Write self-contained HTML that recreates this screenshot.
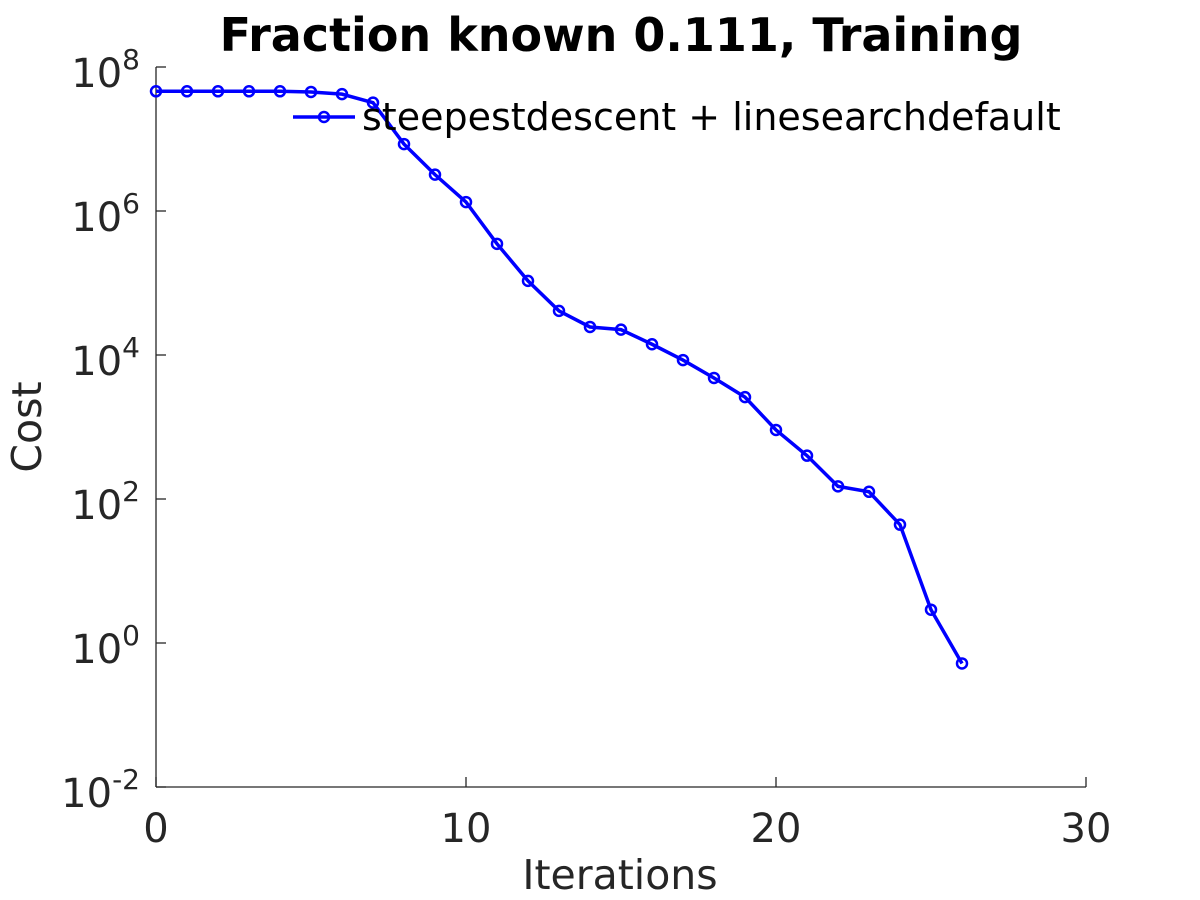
<!DOCTYPE html>
<html><head><meta charset="utf-8"><style>
body{margin:0;background:#fff;}
svg{display:block;font-family:"DejaVu Sans","Liberation Sans",sans-serif;}
</style></head><body>
<svg id="chart" width="1200" height="900" viewBox="0 0 1200 900">
<rect width="1200" height="900" fill="#fff"/>
<text x="621" y="51" font-size="46" font-weight="bold" text-anchor="middle" fill="#000">Fraction known 0.111, Training</text>
<g id="axes"></g>
<g id="series"></g>
<g>
<line x1="293" y1="117" x2="355" y2="117" stroke="#0000ff" stroke-width="3.5"/>
<circle cx="324" cy="117" r="5" fill="none" stroke="#0000ff" stroke-width="2.5"/>
<text x="362" y="130" font-size="38" fill="#000">steepestdescent + linesearchdefault</text>
</g>
<text x="620" y="889" font-size="41" text-anchor="middle" fill="#262626">Iterations</text>
<text x="41" y="427" font-size="41" text-anchor="middle" fill="#262626" transform="rotate(-90 41 427)">Cost</text>
</svg>
<script>
const iterations=[0,1,2,3,4,5,6,7,8,9,10,11,12,13,14,15,16,17,18,19,20,21,22,23,24,25,26];
const costs=[4.6e7,4.6e7,4.6e7,4.6e7,4.6e7,4.5e7,4.2e7,3.2e7,8.5e6,3.2e6,1.33e6,3.5e5,1.07e5,4.1e4,2.45e4,2.25e4,1.41e4,8.5e3,4.8e3,2.6e3,9.1e2,4.0e2,1.5e2,1.26e2,4.4e1,2.9,0.52];
const xTicks=[0,10,20,30];
const yTickExps=[-2,0,2,4,6,8];
const NS="http://www.w3.org/2000/svg";
const X0=156,X1=1086,Y0=787,Y1=67;
const xs=v=>X0+(v-0)/(30-0)*(X1-X0);
const ys=v=>Y0-(Math.log10(v)+2)/10*(Y0-Y1);
function mk(t,a,p){const e=document.createElementNS(NS,t);for(const k in a)e.setAttribute(k,a[k]);p.appendChild(e);return e;}
const ax=document.getElementById('axes');
const xl=mk('line',{x1:X0,y1:Y0,x2:X1,y2:Y0,stroke:'#262626','stroke-width':1.3},ax);


const yl=mk('line',{x1:X0,y1:Y0,x2:X0,y2:Y1,stroke:'#262626','stroke-width':1.3},ax);


xTicks.forEach(t=>{const x=xs(t);
mk('line',{x1:x,y1:Y0,x2:x,y2:Y0-10,stroke:'#262626','stroke-width':1.3},ax);
const tx=mk('text',{x:x,y:Y0+55,'font-size':40,'text-anchor':'middle',fill:'#262626'},ax);tx.textContent=t;

});
yTickExps.forEach(e=>{const y=ys(Math.pow(10,e));
mk('line',{x1:X0,y1:y,x2:X0+10,y2:y,stroke:'#262626','stroke-width':1.3},ax);
const tx=mk('text',{x:140,y:y+20,'font-size':40,'text-anchor':'end',fill:'#262626'},ax);
tx.textContent='10';
const s=mk('tspan',{dy:-18,'font-size':28},tx);s.textContent=e;

});
const sg=document.getElementById('series');
const pts=iterations.map((v,i)=>xs(v)+','+ys(costs[i])).join(' ');
const pl=mk('polyline',{points:pts,fill:'none',stroke:'#0000ff','stroke-width':3.5},sg);


iterations.forEach((v,i)=>{const c=mk('circle',{cx:xs(v),cy:ys(costs[i]),r:5,fill:'none',stroke:'#0000ff','stroke-width':2.5},sg);

});
</script>
</body></html>
